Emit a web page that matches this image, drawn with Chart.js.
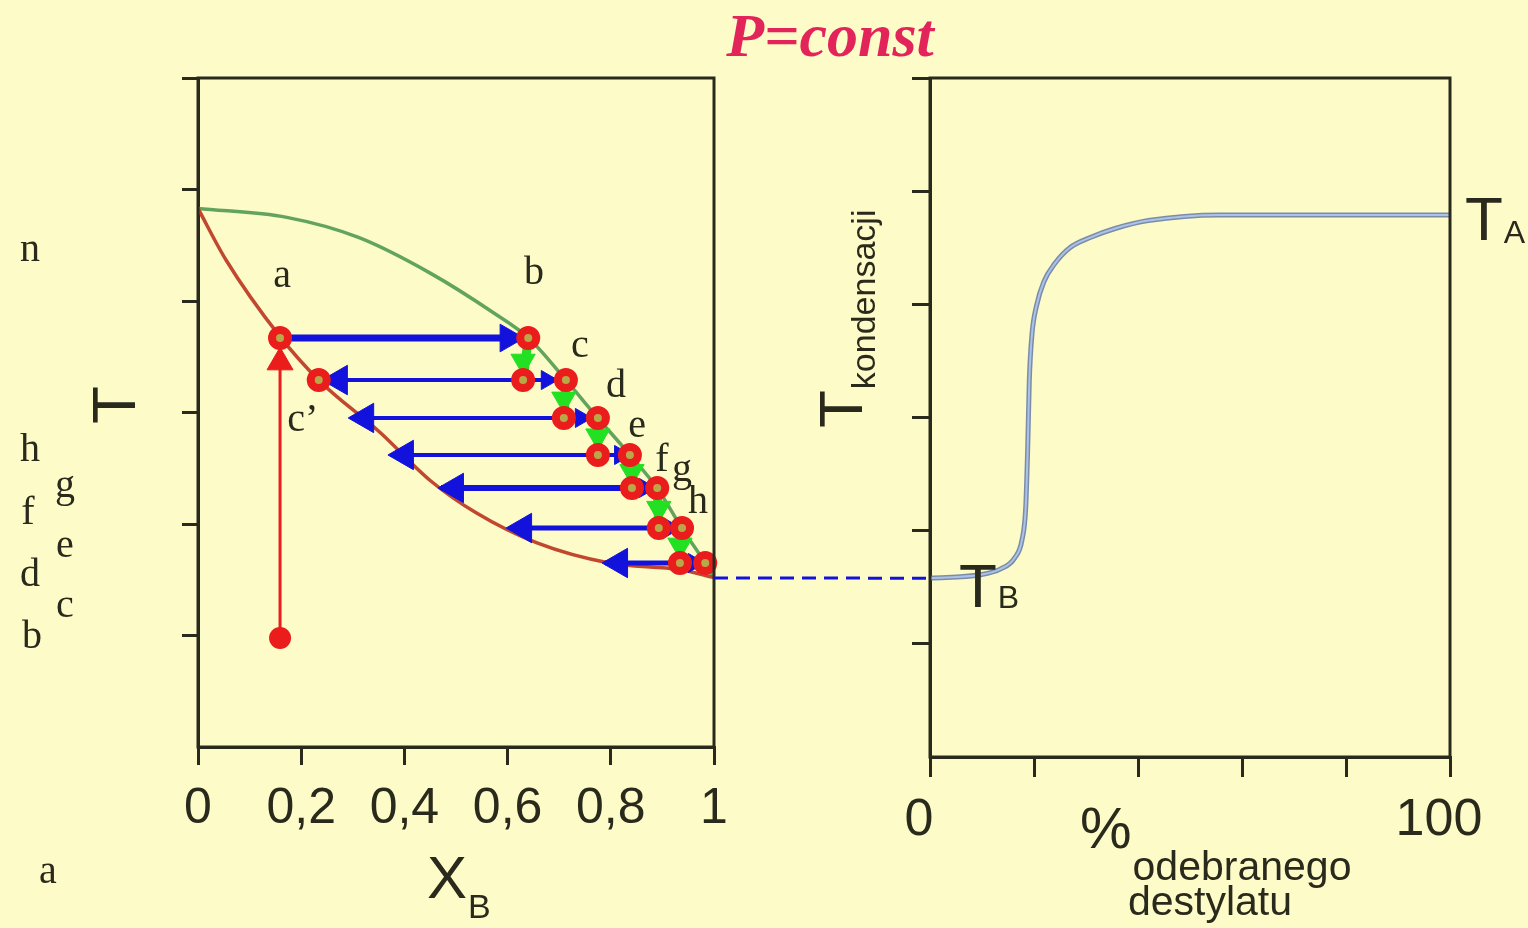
<!DOCTYPE html>
<html lang="pl">
<head>
<meta charset="utf-8">
<title>Destylacja, P=const</title>
<script src="https://cdn.jsdelivr.net/npm/chart.js@4.4.1/dist/chart.umd.min.js"></script>
<style>
  html, body { margin: 0; padding: 0; background: #fdfbc8; overflow: hidden; }
  #stage { position: relative; width: 1528px; height: 928px; }
  #stage canvas { position: absolute; left: 0; top: 0; }
</style>
</head>
<body>
<div id="stage">
  <canvas id="phase" width="1528" height="928"></canvas>
  <canvas id="cond" width="1528" height="928"></canvas>
</div>
<script>
// left panel: T vs X_B (liquid and vapour curves)
const xbTicks = [0, 0.2, 0.4, 0.6, 0.8, 1];
const bubbleX = [0, 0.054, 0.159, 0.234, 0.353, 0.450, 0.539, 0.657, 0.797, 0.935, 1];
const bubbleT = [4.83, 4.37, 3.68, 3.29, 2.82, 2.39, 2.10, 1.83, 1.65, 1.59, 1.52];
const dewX = [0, 0.172, 0.311, 0.450, 0.574, 0.640, 0.713, 0.775, 0.837, 0.890, 0.938, 0.983, 1];
const dewT = [4.83, 4.75, 4.57, 4.25, 3.89, 3.67, 3.29, 2.95, 2.62, 2.32, 1.96, 1.65, 1.52];

// distillation steps (one row per tie line)
const stepT = [3.668, 3.291, 2.951, 2.619, 2.323, 1.964, 1.650];
const liquidX = [0.159, 0.234, 0.297, 0.374, 0.471, 0.605, 0.789];
const vaporX = [0.640, 0.713, 0.775, 0.837, 0.890, 0.938, 0.983];
const startX = [null, 0.630, 0.709, 0.775, 0.841, 0.893, 0.934];
const longHeadX = [0.601, 0.273, 0.324, 0.401, 0.498, 0.630, 0.816];
const shortHeadX = [null, 0.676, 0.742, 0.818, 0.866, 0.915, 0.961];
const greenHeadT = [null, 3.46, 3.12, 2.79, 2.47, 2.14, 1.81];
const feedX = 0.159;
const feedT = [0.978, 3.668];
const feedHeadT = 3.45;
const boilB = 1.516;   // T_B, both panels

// right panel: condensation temperature vs % distillate collected
const pctTicks = [0, 20, 40, 60, 80, 100];
const distPct = [0, 9.6, 13.5, 16.3, 17.7, 18.4, 18.8, 19.1, 19.6, 20.5, 21.9, 24.0, 26.9, 30.8, 35.6, 42.0, 55.8, 100];
const condT = [1.58, 1.61, 1.66, 1.76, 1.92, 2.20, 2.75, 3.33, 3.73, 3.99, 4.20, 4.36, 4.50, 4.59, 4.67, 4.74, 4.79, 4.79];

const INK = '#2a2a1c';
const SANS = '"Liberation Sans", Arial, sans-serif';
const SERIF = '"Liberation Serif", "Times New Roman", serif';
const BLUE = '#1212dc';
const RED = '#ea1c1c';
const GREEN = '#22e022';
const rowWidth = [7, 4, 4, 4, 6, 5, 5];

function pts(xs, ys) { return xs.map((x, i) => ({ x: x, y: ys[i] })); }
function seg(x0, y0, x1, y1, color, width, order) {
  return { data: [{ x: x0, y: y0 }, { x: x1, y: y1 }], borderColor: color, borderWidth: width,
           pointRadius: 0, order: order, clip: false };
}
function heads(list, color, order) {
  return { data: list.map(h => ({ x: h.x, y: h.y })), showLine: false, pointStyle: 'triangle',
           pointRadius: list.map(h => h.r), pointRotation: list.map(h => h.rot),
           pointBackgroundColor: color, pointBorderColor: color, pointBorderWidth: 1,
           order: order, clip: false };
}

const phaseSets = [];
phaseSets.push({ data: pts(bubbleX, bubbleT), borderColor: '#c2472f', borderWidth: 3.5, pointRadius: 0,
                 cubicInterpolationMode: 'monotone', order: 9 });
phaseSets.push({ data: pts(dewX, dewT), borderColor: '#62a45e', borderWidth: 3.5, pointRadius: 0,
                 cubicInterpolationMode: 'monotone', order: 9 });

// feed: heating the liquid up to the bubble curve
phaseSets.push(seg(feedX, feedT[0], feedX, feedT[1], RED, 3, 6));

const blueHeads = [], greenHeads = [];
phaseSets.push(seg(liquidX[0], stepT[0], vaporX[0], stepT[0], BLUE, rowWidth[0], 4));
blueHeads.push({ x: longHeadX[0], y: stepT[0], r: 16, rot: 90 });
for (let i = 1; i < stepT.length; i++) {
  phaseSets.push(seg(startX[i], stepT[i], liquidX[i], stepT[i], BLUE, rowWidth[i], 4));
  phaseSets.push(seg(startX[i], stepT[i], vaporX[i], stepT[i], BLUE, rowWidth[i], 4));
  phaseSets.push(seg(vaporX[i - 1], stepT[i - 1], startX[i], stepT[i], GREEN, 9, 5));
  blueHeads.push({ x: longHeadX[i], y: stepT[i], r: 17, rot: 270 });
  blueHeads.push({ x: shortHeadX[i], y: stepT[i], r: 11, rot: 90 });
  greenHeads.push({ x: startX[i], y: greenHeadT[i], r: 14, rot: 180 });
}
phaseSets.push(heads(blueHeads, BLUE, 3));
phaseSets.push(heads(greenHeads, GREEN, 5));
phaseSets.push(heads([{ x: feedX, y: feedHeadT, r: 15, rot: 0 }], RED, 2));

// state points
const ringX = [liquidX[0], vaporX[0], liquidX[1]];
const ringT = [stepT[0], stepT[0], stepT[1]];
for (let i = 1; i < stepT.length; i++) {
  ringX.push(startX[i], vaporX[i]);
  ringT.push(stepT[i], stepT[i]);
}
phaseSets.push({ data: pts(ringX, ringT), showLine: false, pointRadius: 8, pointBorderWidth: 8,
                 pointBorderColor: RED, pointBackgroundColor: '#b8a848', order: 0, clip: false });
phaseSets.push({ data: [{ x: feedX, y: feedT[0] }], showLine: false, pointRadius: 11, pointBorderWidth: 0,
                 pointBackgroundColor: RED, order: 0, clip: false });

const pointLetters = [
  { t: 'a', x: 0.163, y: 4.22 }, { t: 'b', x: 0.651, y: 4.25 }, { t: 'c', x: 0.740, y: 3.59 },
  { t: 'd', x: 0.810, y: 3.23 }, { t: 'e', x: 0.851, y: 2.87 }, { t: 'f', x: 0.899, y: 2.57 },
  { t: 'g', x: 0.938, y: 2.48 }, { t: 'h', x: 0.969, y: 2.19 }, { t: 'c\u2019', x: 0.203, y: 2.93 }
];

function frameAndTicks(hideZero) {
  return {
    drawOnChartArea: false, drawTicks: true, tickLength: 18, lineWidth: 3,
    color: c => (hideZero && c.tick && c.tick.value === 0) ? 'rgba(0,0,0,0)' : INK
  };
}
const boxPlugin = {
  id: 'box',
  afterDraw(chart) {
    const a = chart.chartArea, ctx = chart.ctx;
    ctx.save();
    ctx.strokeStyle = INK; ctx.lineWidth = 3;
    ctx.strokeRect(a.left, a.top, a.right - a.left, a.bottom - a.top);
    ctx.restore();
  }
};

const phaseLetters = {
  id: 'phaseLetters',
  afterDraw(chart) {
    const ctx = chart.ctx, sx = chart.scales.x, sy = chart.scales.y;
    ctx.save();
    ctx.fillStyle = INK; ctx.font = '40px ' + SERIF;
    ctx.textAlign = 'center'; ctx.textBaseline = 'middle';
    pointLetters.forEach(p => ctx.fillText(p.t, sx.getPixelForValue(p.x), sy.getPixelForValue(p.y)));
    ctx.restore();
  }
};

const phaseChart = new Chart(document.getElementById('phase'), {
  type: 'line',
  data: { datasets: phaseSets },
  options: {
    responsive: false, animation: false, events: [],
    layout: { padding: { left: 182, right: 814, top: 78, bottom: 91 } },
    plugins: { legend: { display: false }, tooltip: { enabled: false } },
    scales: {
      x: {
        type: 'linear', min: 0, max: 1,
        afterBuildTicks: s => { s.ticks = xbTicks.map(v => ({ value: v })); },
        afterFit: s => { s.height = 90; },
        ticks: {
          color: INK, font: { family: SANS, size: 50 }, padding: 14, maxRotation: 0, autoSkip: false,
          callback: v => (v === 0 || v === 1) ? String(v) : v.toFixed(1).replace('.', ',')
        },
        grid: frameAndTicks(false),
        border: { display: true, color: INK, width: 3 }
      },
      y: {
        type: 'linear', min: 0, max: 6,
        ticks: { display: false, stepSize: 1 },
        afterFit: s => { s.width = 16; },
        grid: Object.assign(frameAndTicks(true), { tickLength: 16 }),
        border: { display: true, color: INK, width: 3 }
      }
    }
  },
  plugins: [boxPlugin, phaseLetters]
});

// all free text of the figure, plus the T_B link between the two panels
function sub(ctx, main, small, x, y, bigPx, smallPx, drop) {
  ctx.font = bigPx + 'px ' + SANS;
  ctx.textAlign = 'left';
  ctx.fillText(main, x, y);
  const w = ctx.measureText(main).width;
  ctx.font = smallPx + 'px ' + SANS;
  ctx.fillText(small, x + w + 1, y + drop);
}
const textPlugin = {
  id: 'texts',
  afterDatasetsDraw(chart) {
    const ctx = chart.ctx;
    // dashed T_B line from the phase diagram to the distillation curve
    const yB = chart.scales.y.getPixelForValue(condT[0]);
    ctx.save();
    ctx.strokeStyle = BLUE; ctx.lineWidth = 3; ctx.setLineDash([14, 8]);
    ctx.beginPath();
    ctx.moveTo(phaseChart.scales.x.getPixelForValue(1), phaseChart.scales.y.getPixelForValue(boilB));
    ctx.lineTo(chart.chartArea.left, yB);
    ctx.stroke();
    ctx.restore();
  },
  afterDraw(chart) {
    const ctx = chart.ctx;
    ctx.save();
    ctx.textBaseline = 'alphabetic';
    ctx.fillStyle = '#e2245a';
    ctx.font = 'bold italic 62px ' + SERIF;
    ctx.textAlign = 'center';
    ctx.fillText('P=const', 830, 56);

    ctx.fillStyle = INK;
    ctx.font = '40px ' + SERIF;
    ctx.textBaseline = 'middle';
    [['n', 30, 250], ['h', 30, 450], ['g', 65, 486], ['f', 28, 513], ['e', 65, 546],
     ['d', 30, 575], ['c', 65, 606], ['b', 32, 637], ['a', 48, 872]]
      .forEach(l => ctx.fillText(l[0], l[1], l[2]));

    ctx.textBaseline = 'alphabetic';
    // axis titles
    ctx.save(); ctx.translate(135, 424); ctx.rotate(-Math.PI / 2);
    ctx.font = '62px ' + SANS; ctx.textAlign = 'left'; ctx.fillText('T', 0, 0);
    ctx.restore();
    ctx.save(); ctx.translate(862, 428); ctx.rotate(-Math.PI / 2);
    sub(ctx, 'T', 'kondensacji', 0, 0, 62, 34, 13);
    ctx.restore();
    sub(ctx, 'X', 'B', 427, 898, 60, 34, 20);
    sub(ctx, 'T', 'A', 1465, 240, 62, 32, 3);
    sub(ctx, 'T', 'B', 959, 607, 62, 32, 1);
    sub(ctx, '%', 'odebranego', 1080, 848, 58, 41, 32);
    ctx.font = '41px ' + SANS; ctx.textAlign = 'center';
    ctx.fillText('destylatu', 1210, 915);
    ctx.restore();
  }
};

new Chart(document.getElementById('cond'), {
  type: 'line',
  data: {
    datasets: [
      { data: pts(distPct, condT), borderColor: '#a9c3ea', borderWidth: 2, pointRadius: 0,
        cubicInterpolationMode: 'monotone', order: 0 },
      { data: pts(distPct, condT), borderColor: '#7d8ca6', borderWidth: 5, pointRadius: 0,
        cubicInterpolationMode: 'monotone', order: 1 }
    ]
  },
  options: {
    responsive: false, animation: false, events: [],
    layout: { padding: { left: 912, right: 78, top: 78, bottom: 91 } },
    plugins: { legend: { display: false }, tooltip: { enabled: false } },
    scales: {
      x: {
        type: 'linear', min: 0, max: 100,
        afterBuildTicks: s => { s.ticks = pctTicks.map(v => ({ value: v })); },
        afterFit: s => { s.height = 80; },
        ticks: {
          color: INK, font: { family: SANS, size: 52 }, padding: 12, maxRotation: 0, autoSkip: false,
          labelOffset: -11,
          callback: v => (v === 0 || v === 100) ? String(v) : ''
        },
        grid: Object.assign(frameAndTicks(false), { tickLength: 20 }),
        border: { display: true, color: INK, width: 3 }
      },
      y: {
        type: 'linear', min: 0, max: 6,
        ticks: { display: false, stepSize: 1 },
        afterFit: s => { s.width = 18; },
        grid: frameAndTicks(true),
        border: { display: true, color: INK, width: 3 }
      }
    }
  },
  plugins: [boxPlugin, textPlugin]
});
</script>
</body>
</html>
